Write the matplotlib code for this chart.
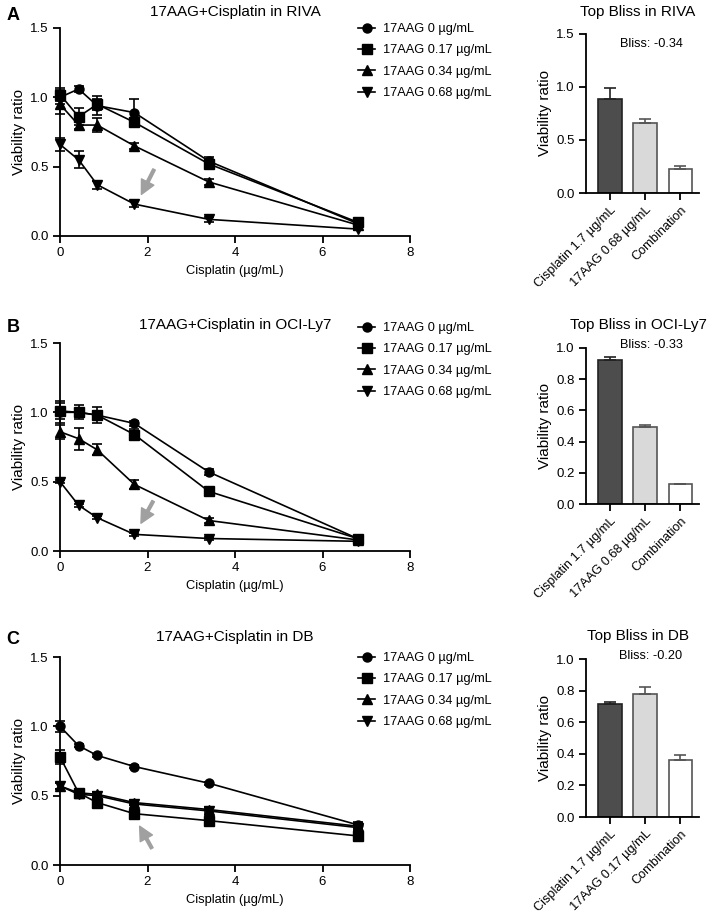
import numpy as np
import matplotlib
matplotlib.use('Agg')
import matplotlib.pyplot as plt
from matplotlib.lines import Line2D

plt.rcParams['font.family'] = ['Liberation Sans', 'DejaVu Sans']

W, H = 709, 915

conc = [0, 0.425, 0.85, 1.7, 3.4, 6.8]
dose_labels = ['17AAG 0 µg/mL', '17AAG 0.17 µg/mL', '17AAG 0.34 µg/mL', '17AAG 0.68 µg/mL']
markers = ['o', 's', '^', 'v']

riva_mean = [[1.00, 1.06, 0.94, 0.89, 0.54, 0.09],
             [1.02, 0.86, 0.95, 0.82, 0.52, 0.10],
             [0.95, 0.80, 0.80, 0.65, 0.39, 0.08],
             [0.66, 0.55, 0.37, 0.23, 0.12, 0.05]]
riva_err = [[0.05, 0.02, 0.07, 0.10, 0.03, 0.01],
            [0.05, 0.06, 0.04, 0.03, 0.03, 0.01],
            [0.07, 0.03, 0.05, 0.02, 0.02, 0.01],
            [0.05, 0.06, 0.03, 0.02, 0.02, 0.01]]

ly7_mean = [[1.00, 1.00, 0.98, 0.92, 0.57, 0.09],
            [1.01, 1.00, 0.98, 0.84, 0.43, 0.09],
            [0.86, 0.81, 0.73, 0.48, 0.22, 0.08],
            [0.50, 0.33, 0.24, 0.12, 0.09, 0.07]]
ly7_err = [[0.08, 0.02, 0.03, 0.02, 0.02, 0.01],
           [0.06, 0.05, 0.06, 0.04, 0.02, 0.01],
           [0.05, 0.08, 0.04, 0.03, 0.02, 0.01],
           [0.01, 0.01, 0.01, 0.01, 0.01, 0.01]]

db_mean = [[1.00, 0.86, 0.79, 0.71, 0.59, 0.29],
           [0.78, 0.52, 0.45, 0.37, 0.32, 0.21],
           [0.57, 0.52, 0.51, 0.45, 0.40, 0.28],
           [0.57, 0.51, 0.50, 0.44, 0.39, 0.27]]
db_err = [[0.04, 0.01, 0.01, 0.01, 0.01, 0.02],
          [0.05, 0.03, 0.02, 0.02, 0.02, 0.02],
          [0.02, 0.02, 0.02, 0.02, 0.02, 0.02],
          [0.02, 0.01, 0.01, 0.01, 0.02, 0.02]]

riva_bar_labels = ['Cisplatin 1.7 µg/mL', '17AAG 0.68 µg/mL', 'Combination']
riva_bar = [0.89, 0.66, 0.23]
riva_bar_err = [0.10, 0.04, 0.02]

ly7_bar_labels = ['Cisplatin 1.7 µg/mL', '17AAG 0.68 µg/mL', 'Combination']
ly7_bar = [0.925, 0.495, 0.126]
ly7_bar_err = [0.015, 0.012, 0.005]

db_bar_labels = ['Cisplatin 1.7 µg/mL', '17AAG 0.17 µg/mL', 'Combination']
db_bar = [0.715, 0.78, 0.36]
db_bar_err = [0.01, 0.045, 0.03]

bar_colors = ['#4d4d4d', '#d9d9d9', '#ffffff']
bar_edges = ['#222222', '#555555', '#555555']


def px_axes(fig, x0, y0, x1, y1):
    # pixel box (top-left origin) -> axes
    return fig.add_axes([x0 / W, 1 - y1 / H, (x1 - x0) / W, (y1 - y0) / H])


def style(ax):
    for s in ['top', 'right']:
        ax.spines[s].set_visible(False)
    for s in ['left', 'bottom']:
        ax.spines[s].set_linewidth(1.3)
    ax.tick_params(width=1.3, length=5, labelsize=9.5, pad=3)


def line_panel(fig, top, mean, err, title, title_y, leg_y, letter, arrow):
    ax = px_axes(fig, 60, top, 410, top + 208)
    style(ax)
    for i in range(4):
        ax.errorbar(conc, mean[i], yerr=err[i], color='black', marker=markers[i],
                    markersize=6.5, lw=1.2, capsize=3.5, elinewidth=1.2,
                    capthick=1.2, clip_on=False)
    ax.set_xlim(0, 8)
    ax.set_ylim(0, 1.5)
    ax.set_xticks([0, 2, 4, 6, 8])
    ax.set_yticks([0, 0.5, 1.0, 1.5])
    ax.set_yticklabels(['0.0', '0.5', '1.0', '1.5'])
    ax.set_xlabel('Cisplatin (µg/mL)', fontsize=9.3, labelpad=4)
    ax.set_ylabel('Viability ratio', fontsize=11, labelpad=3)
    ax.annotate('', xy=arrow[1], xytext=arrow[0],
                arrowprops=dict(facecolor='#a0a0a0', edgecolor='#a0a0a0',
                                width=2, headwidth=10, headlength=10, shrink=0))
    fig.text(235 / W, 1 - title_y / H, title, ha='center', va='center', fontsize=11)
    fig.text(13 / W, 1 - (title_y + 3) / H, letter, ha='center', va='center',
             fontsize=13, fontweight='bold')
    handles = [Line2D([], [], color='black', marker=m, markersize=6.5, lw=1.2)
               for m in markers]
    fig.legend(handles, dose_labels, loc='upper left',
               bbox_to_anchor=(358 / W, 1 - leg_y / H),
               frameon=False, fontsize=9.2, handlelength=1.35, handletextpad=0.6,
               labelspacing=0.74, borderpad=0, borderaxespad=0)
    return ax


def bar_panel(fig, top, bottom, vals, errs, labels, yticks, title, title_y, bliss, bliss_y):
    ax = px_axes(fig, 586, top, 699, bottom)
    style(ax)
    xs = np.arange(len(vals))
    for i in range(len(vals)):
        ax.bar(xs[i], vals[i], width=0.66, color=bar_colors[i], edgecolor=bar_edges[i],
               linewidth=1.2)
        ax.errorbar(xs[i], vals[i], yerr=[[0], [errs[i]]], color=bar_edges[i],
                    capsize=4, elinewidth=1.2, capthick=1.2, fmt='none')
    ax.set_xlim(-0.686, 2.54)
    ax.set_ylim(0, yticks[-1])
    ax.set_yticks(yticks)
    ax.set_yticklabels(['%.1f' % t for t in yticks])
    ax.set_xticks(xs)
    ax.set_xticklabels(labels, rotation=45, ha='right', rotation_mode='anchor',
                       fontsize=9.2)
    ax.set_ylabel('Viability ratio', fontsize=11, labelpad=3)
    fig.text(638 / W, 1 - title_y / H, title, ha='center', va='center', fontsize=11)
    fig.text(651 / W, 1 - bliss_y / H, 'Bliss: ' + bliss, ha='center', va='center',
             fontsize=9.2)
    return ax


fig = plt.figure(figsize=(W / 100, H / 100), dpi=100)

line_panel(fig, 28, riva_mean, riva_err, '17AAG+Cisplatin in RIVA', 12, 23, 'A',
           [(2.15, 0.48), (1.86, 0.30)])
line_panel(fig, 343, ly7_mean, ly7_err, '17AAG+Cisplatin in OCI-Ly7', 325, 322, 'B',
           [(2.13, 0.36), (1.85, 0.20)])
line_panel(fig, 657, db_mean, db_err, '17AAG+Cisplatin in DB', 637, 652, 'C',
           [(2.10, 0.12), (1.82, 0.28)])

bar_panel(fig, 34, 193, riva_bar, riva_bar_err, riva_bar_labels, [0, 0.5, 1.0, 1.5],
          'Top Bliss in RIVA', 12, '-0.34', 44)
bar_panel(fig, 348, 504, ly7_bar, ly7_bar_err, ly7_bar_labels,
          [0, 0.2, 0.4, 0.6, 0.8, 1.0], 'Top Bliss in OCI-Ly7', 325, '-0.33', 345)
bar_panel(fig, 659, 817, db_bar, db_bar_err, db_bar_labels,
          [0, 0.2, 0.4, 0.6, 0.8, 1.0], 'Top Bliss in DB', 636, '-0.20', 656)

fig.savefig('out.png', dpi=100)
